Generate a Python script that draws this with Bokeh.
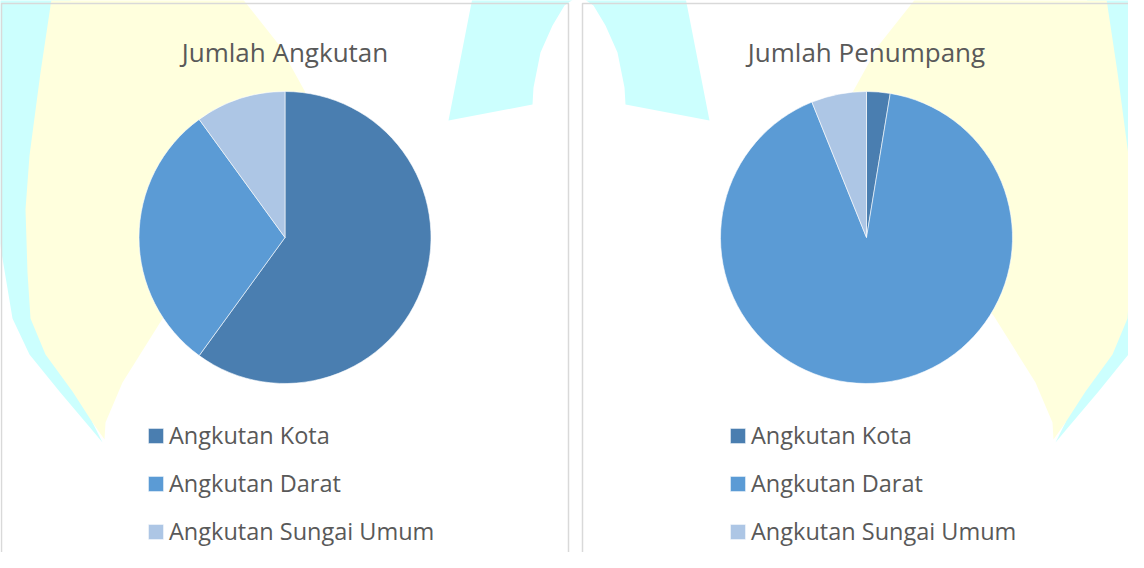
import math
from bokeh.plotting import figure
from bokeh.models import ColumnDataSource, Range1d, Legend, LegendItem
from bokeh.core.properties import value
from bokeh.embed import file_html
from bokeh.resources import INLINE

# ---------------- data ----------------
categories = ["Angkutan Kota", "Angkutan Darat", "Angkutan Sungai Umum"]
jumlah_angkutan = [60.0, 30.0, 10.0]      # share (%)
jumlah_penumpang = [2.6, 91.3, 6.1]       # share (%)
slice_colors = ["#4A7EB0", "#5B9BD5", "#ADC6E5"]
chart_titles = ["Jumlah Angkutan", "Jumlah Penumpang"]

# ---------------- layout constants ----------------
W, H = 1128, 552
FONT = "Open Sans"
TXT = "#595959"
CX_MIRROR = 586.5


def Y(ry):
    """page pixel row (top-down) -> plot y (bottom-up)"""
    return 568 - ry


p = figure(width=W, height=H, x_range=Range1d(8, 8 + W), y_range=Range1d(8, 8 + H),
           output_backend="svg", toolbar_location=None, min_border=0)
p.axis.visible = False
p.grid.visible = False
p.outline_line_color = None
p.background_fill_color = "white"
p.border_fill_color = "white"

# ---------------- decorative watermark ----------------
CYAN = "#CCFFFE"
YELLOW = "#FFFFDD"

yellow_left = [(62, -10), (60, 0), (48, 80), (37, 163), (33, 217), (35, 280), (38, 326),
               (53, 362), (80, 399), (100, 430), (112, 447), (113, 430), (130, 390),
               (172, 323), (250, 240), (305, 160), (313, 100), (287, 53), (245, 0), (240, -10)]
cyan_left = [(-20, -10), (-12, 100), (0, 206), (20, 326), (37, 362), (67, 399), (100, 438),
             (110, 450), (100, 430), (90, 380), (70, 300), (60, 200), (70, 100), (80, -10)]
arch_half = [(483, -10), (481, 0), (456, 128), (540, 112), (541, 95), (548, 60), (560, 33),
             (572, 13), (586.5, 3)]
arch = arch_half + [(2 * CX_MIRROR - x, y) for (x, y) in reversed(arch_half[:-1])]


def mirror(pts):
    return [(2 * CX_MIRROR - x, y) for (x, y) in pts]


def patch(pts, color):
    p.patch([x for x, _ in pts], [Y(y) for _, y in pts], fill_color=color, line_color=None)


patch(cyan_left, CYAN)
patch(mirror(cyan_left), CYAN)
patch(arch, CYAN)
patch(yellow_left, YELLOW)
patch(mirror(yellow_left), YELLOW)

# ---------------- chart boxes ----------------
p.quad(left=[9, 590], right=[576, 1160], top=[Y(11), Y(11)], bottom=[-20, -20],
       fill_alpha=0, line_color="#D9D9D9", line_width=1.5)

# ---------------- pies ----------------
pie_centers = [(292.5, 245), (874, 245)]
legend_x = [146, 728]


def pie_source(vals):
    total = float(sum(vals))
    cum = 0.0
    starts, ends = [], []
    for v in vals:
        starts.append(math.pi / 2 - 2 * math.pi * cum / total)
        cum += v
        ends.append(math.pi / 2 - 2 * math.pi * cum / total)
    return ColumnDataSource(dict(label=categories, value=vals, start=starts, end=ends,
                                 color=slice_colors))


for k, vals in enumerate([jumlah_angkutan, jumlah_penumpang]):
    cx, cy = pie_centers[k]
    src = pie_source(vals)
    r = p.wedge(x=cx, y=Y(cy), radius=146, radius_units="screen",
                start_angle="start", end_angle="end", direction="clock",
                fill_color="color", line_color="white", line_width=0.6, source=src)

    p.text(x=[cx], y=[Y(59)], text=[chart_titles[k]], text_font=value(FONT),
           text_font_size="26px", text_color=TXT, text_align="center",
           text_baseline="alphabetic")

    leg = Legend(items=[LegendItem(label=categories[i], renderers=[r], index=i)
                        for i in range(len(categories))],
                 location=(legend_x[k], 5), orientation="vertical",
                 glyph_width=19, glyph_height=19, label_height=19,
                 label_text_font=FONT, label_text_font_size="23.5px",
                 label_text_color=TXT, label_standoff=4, spacing=16,
                 padding=0, margin=0, border_line_color=None,
                 background_fill_alpha=0)
    p.add_layout(leg)

open("out.html", "w").write(file_html(p, INLINE))
